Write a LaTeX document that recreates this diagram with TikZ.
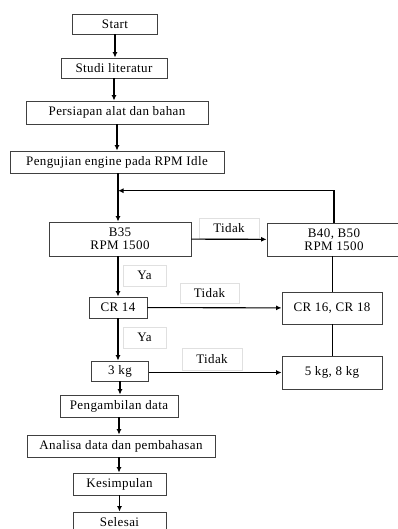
\documentclass[tikz,border=0pt]{standalone}
\usepackage{fontspec}
\setmainfont{Liberation Serif}[LetterSpace=3]
\usetikzlibrary{positioning,arrows.meta}

\tikzset{
  box/.style={draw=black!75, line width=0.8pt, rectangle, align=center, inner sep=0pt},
  lbl/.style={draw=black!12, line width=0.6pt, rectangle, inner sep=0pt, minimum height=20pt},
  flow/.style={line width=1.1pt, ->},
}

\begin{document}
\begin{tikzpicture}[x=1pt, y=-1pt, >={Latex[length=5.5pt,width=5pt]}, every node/.style={font=\fontsize{13}{13.5}\selectfont}]
	\useasboundingbox (0,0) rectangle (398,529);
	\clip (0,0) rectangle (398,529);
	\begin{scope}
		\node (start) [box, minimum width=85pt, minimum height=20pt] at (115,24) {Start};
		\node (studi) [box, minimum width=106pt, minimum height=20pt] at (114,68) {Studi literatur};
		\node (siap) [box, minimum width=182pt, minimum height=23pt] at (117,112.5) {Persiapan alat dan bahan};
		\node (uji) [box, minimum width=214pt, minimum height=22pt] at (117,162) {Pengujian engine pada RPM Idle};
		\node (b35) [box, minimum width=142pt, minimum height=34pt] at (120,239) {B35\\RPM 1500};
		\node (b40) [box, minimum width=134pt, minimum height=33pt] at (334,239.5) {B40, B50\\RPM 1500};
		\node (cr14) [box, minimum width=58pt, minimum height=21pt] at (118,307.5) {CR 14};
		\node (cr16) [box, minimum width=100pt, minimum height=32pt] at (332,308) {CR 16, CR 18};
		\node (kg3) [box, minimum width=57pt, minimum height=20pt] at (120,371) {3 kg};
		\node (kg58) [box, minimum width=100pt, minimum height=33pt] at (332,372.5) {5 kg, 8 kg};
		\node (ambil) [box, minimum width=118pt, minimum height=22pt] at (119,406) {Pengambilan data};
		\node (analisa) [box, minimum width=188pt, minimum height=22pt] at (121,446) {Analisa data dan pembahasan};
		\node (simpul) [box, minimum width=93pt, minimum height=22pt] at (119.5,484) {Kesimpulan};
		\node (selesai) [box, minimum width=93pt, minimum height=20pt] at (119.5,522) {Selesai};

		\node (tidak1) [lbl, minimum width=60pt] at (229,228) {Tidak};
		\node (ya1) [lbl, minimum width=43pt, minimum height=21pt] at (144.5,275.5) {Ya};
		\node (tidak2) [lbl, minimum width=59pt] at (209.5,293) {Tidak};
		\node (ya2) [lbl, minimum width=43pt, minimum height=21pt] at (144.5,337.5) {Ya};
		\node (tidak3) [lbl, minimum width=60pt, minimum height=22pt] at (212,359) {Tidak};
		\coordinate (balik) at (118,190.7);

		\draw [flow] (start.south) -- (start.south |- studi.north);
		\draw [flow] (studi.south) -- (studi.south |- siap.north);
		\draw [flow] (siap.south) -- (siap.south |- uji.north);
		\draw [flow] (balik |- uji.south) -- (balik |- b35.north);
		\draw [flow] (b40.north) |- (balik);
		\draw [flow] (b35) -- (b40);
		\draw [flow] (balik |- b35.south) -- (balik |- cr14.north);
		\draw [flow] (cr14) -- (cr16);
		\draw [line width=0.8pt] (b40.south -| cr16.north) -- (cr16.north);
		\draw [line width=0.8pt] (cr16.south) -- (kg58.north);
		\draw [flow] (balik |- cr14.south) -- (balik |- kg3.north);
		\draw [flow] (kg3.east |- kg58) -- (kg58.west);
		\draw [flow] (kg3.south) -- (kg3.south |- ambil.north);
		\draw [flow] (ambil.south) -- (ambil.south |- analisa.north);
		\draw [flow] (analisa.south -| ambil) -- (ambil |- simpul.north);
		\draw [flow] (simpul.south) -- (selesai.north);
	\end{scope}
\end{tikzpicture}
\end{document}
